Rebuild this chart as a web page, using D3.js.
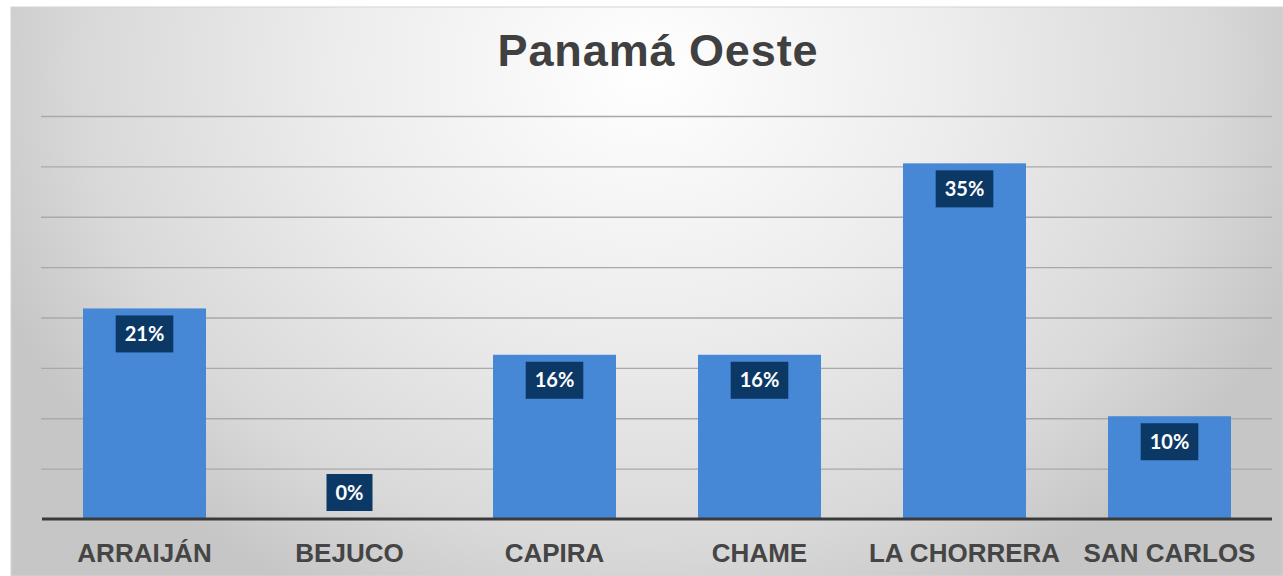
<!DOCTYPE html>
<html>
<head>
<meta charset="utf-8">
<script src="https://cdn.jsdelivr.net/npm/d3@7"></script>
<style>
  body { margin: 0; background: #fff; }
  svg { display: block; }
</style>
</head>
<body>
<svg id="viz-svg" width="1283" height="576"></svg>
<script>
// data
var categories = ["ARRAIJÁN", "BEJUCO", "CAPIRA", "CHAME", "LA CHORRERA", "SAN CARLOS"]
  , values = [0.209, 0, 0.163, 0.163, 0.353, 0.102]
  , labels = ["21%", "0%", "16%", "16%", "35%", "10%"]
  , gridTicks = [0.05, 0.10, 0.15, 0.20, 0.25, 0.30, 0.35, 0.40];

var W = 1283, H = 576
  , plot = {left: 41, right: 1272, top: 116, base: 519};

var svg = d3.select("#viz-svg");
var defs = svg.append("defs");

// soft grey backdrop, brightest near the title
var grad = defs.append("radialGradient")
  .attr("id", "bg-grad")
  .attr("gradientUnits", "userSpaceOnUse")
  .attr("cx", 645).attr("cy", 70).attr("r", 700)
  .attr("gradientTransform", "translate(645,70) scale(1,0.85) translate(-645,-70)");
grad.append("stop").attr("offset", 0).attr("stop-color", "#ffffff");
grad.append("stop").attr("offset", 0.45).attr("stop-color", "#ececec");
grad.append("stop").attr("offset", 0.8).attr("stop-color", "#d9d9d9");
grad.append("stop").attr("offset", 1).attr("stop-color", "#c6c6c6");

svg.append("rect")
  .attr("x", 11).attr("y", 7)
  .attr("width", W - 11).attr("height", H - 7)
  .attr("fill", "url(#bg-grad)")
  .attr("stroke", "#d4d4d4").attr("stroke-width", 1);

var x = d3.scaleBand()
  .domain(categories)
  .range([plot.left + 1, plot.right])
  .paddingInner(0.4)
  .paddingOuter(0.2);

var y = d3.scaleLinear()
  .domain([0, 0.40])
  .range([plot.base, plot.top]);

// horizontal gridlines
var grid = svg.append("g")
  .attr("class", "grid")
  .attr("transform", "translate(" + plot.left + ",0)")
  .call(d3.axisLeft(y).tickValues(gridTicks).tickSize(-(plot.right - plot.left)).tickFormat(""));
grid.select(".domain").remove();
grid.selectAll(".tick line")
  .attr("stroke", "#a9a9a9")
  .attr("stroke-width", 1.3);

// title
svg.append("text")
  .attr("x", 658).attr("y", 66)
  .attr("text-anchor", "middle")
  .attr("font-family", "'Liberation Sans', Arial, sans-serif")
  .attr("font-weight", "bold")
  .attr("font-size", 45)
  .attr("letter-spacing", 0.9)
  .attr("fill", "#404040")
  .text("Panamá Oeste");

// bars
svg.append("g").selectAll("rect")
  .data(categories)
  .join("rect")
  .attr("x", function(d){ return x(d); })
  .attr("y", function(d, i){ return y(values[i]); })
  .attr("width", x.bandwidth())
  .attr("height", function(d, i){ return y(0) - y(values[i]); })
  .attr("fill", "#4688d6");

// baseline + category labels
var xAxis = svg.append("g")
  .attr("transform", "translate(0," + plot.base + ")")
  .call(d3.axisBottom(x).tickSize(0).tickPadding(0));
xAxis.select(".domain")
  .attr("d", "M" + (plot.left + 1) + ",0H" + plot.right)
  .attr("stroke", "#3a3a3a")
  .attr("stroke-width", 3);
xAxis.selectAll(".tick text")
  .attr("y", 43)
  .attr("dy", 0)
  .attr("font-family", "'Liberation Sans', Arial, sans-serif")
  .attr("font-weight", "bold")
  .attr("font-size", 26)
  .attr("fill", "#454545");

// data labels in dark boxes
var lab = svg.append("g").selectAll("g")
  .data(categories)
  .join("g");

lab.each(function(d, i){
  var g = d3.select(this)
    , cx = x(d) + x.bandwidth() / 2
    , boxH = 37;
  var t = g.append("text")
    .attr("x", cx)
    .attr("text-anchor", "middle")
    .attr("font-family", "Lato, 'Open Sans', sans-serif")
    .attr("font-weight", "bold")
    .attr("font-size", 20)
    .attr("fill", "#ffffff")
    .text(labels[i]);
  var tw = t.node().getComputedTextLength()
    , boxW = tw + 18
    , top = Math.min(y(values[i]) + 7, y(0) - 8 - boxH);
  g.insert("rect", "text")
    .attr("x", cx - boxW / 2)
    .attr("y", top)
    .attr("width", boxW)
    .attr("height", boxH)
    .attr("fill", "#0c3866");
  t.attr("y", top + boxH / 2 + 7);
});
</script>
</body>
</html>
